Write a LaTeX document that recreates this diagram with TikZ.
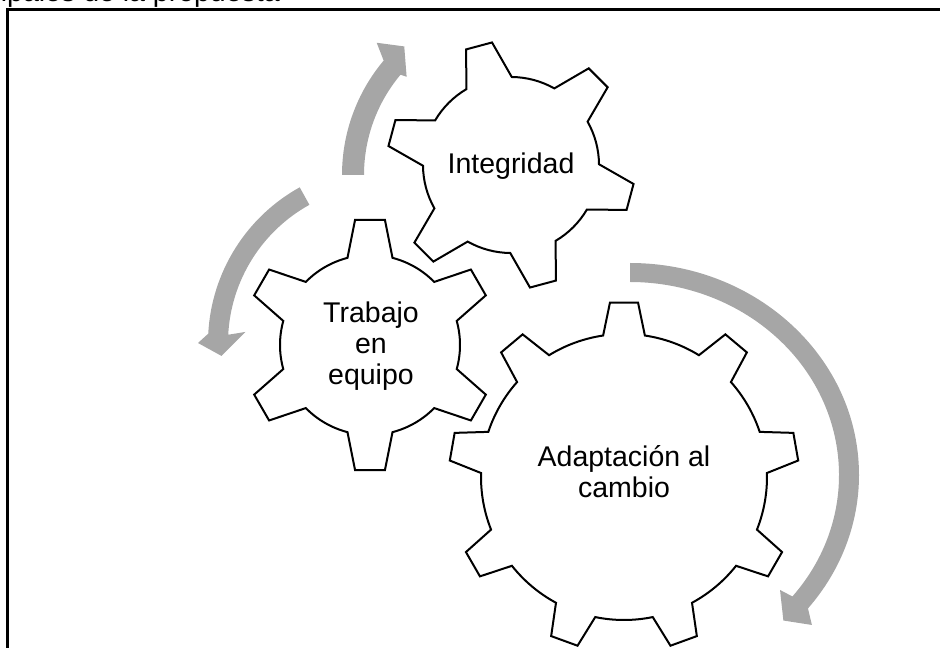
\documentclass[tikz,border=0pt]{standalone}
\usepackage{fontspec}
\setmainfont{Liberation Sans}
\definecolor{arrowgray}{HTML}{A6A6A6}
\newcommand{\drawgear}[7]{%
  \begin{scope}[shift={(#1)}]
    \pgfmathsetmacro{\gstep}{360/#2}
    \pgfmathtruncatemacro{\glast}{#2-1}
    \draw[gear] ({#5-#6}:#3)
      \foreach \i in {0,...,\glast}{
        -- ({#5+\i*\gstep-#7}:#4) -- ({#5+\i*\gstep+#7}:#4) -- ({#5+\i*\gstep+#6}:#3)
        arc[start angle={#5+\i*\gstep+#6}, end angle={#5+(\i+1)*\gstep-#6}, radius=#3]
      } -- cycle;
  \end{scope}}
\begin{document}
\begin{tikzpicture}[x=1pt,y=1pt,
  gear/.style={draw=black, fill=white, line width=2pt, line join=miter},
  cyclearrow/.style={fill=arrowgray, draw=none},
  geartext/.style={font=\fontsize{28.5}{31}\selectfont, align=center, inner sep=0pt, text=black},
  frameline/.style={line width=2.2pt, draw=black}]
\useasboundingbox (0,0) rectangle (940,648);
\clip (0,0) rectangle (940,648);

% caption (cut off at the top edge)
\node[font=\fontsize{28.5}{31}\selectfont, anchor=base east, inner sep=0pt] (caption) at (280,646) {Valores principales de la propuesta};

% frame
\draw[frameline] (7.5,-30) -- (7.5,638.5) -- (980,638.5);

% circular arrows
\begin{scope}[shift={(520,473)}]
  \fill[cyclearrow] (180:178) arc[start angle=180, end angle=140, radius=178]
    -- (137.3:195) -- (132:173) -- (139.1:150) -- (140:156)
    arc[start angle=140, end angle=180, radius=156] -- cycle;
\end{scope}
\begin{scope}[shift={(386,305)}]
  \fill[cyclearrow] (119:178) arc[start angle=119, end angle=177, radius=178]
    -- (180:188) -- (184.5:165) -- (175.5:141) -- (177:158)
    arc[start angle=177, end angle=119, radius=158] -- cycle;
\end{scope}
\begin{scope}[shift={(630,173)}]
  \fill[cyclearrow] (90:229 and 212) arc[start angle=90, end angle=-39, x radius=229, y radius=212]
    -- (-41.8:244 and 225) -- (-45.8:220 and 203) -- (-39.7:195 and 180) -- (-39:209 and 193)
    arc[start angle=-39, end angle=90, x radius=209, y radius=193] -- cycle;
\end{scope}

% gears: center, teeth, root radius, tip radius, first tooth angle, base half-angle, tip half-angle
\drawgear{511,483}{6}{88}{124}{105}{15.5}{6.2}
\drawgear{370,303}{6}{90}{126}{90}{14.5}{6.8}
\drawgear{624,171}{9}{143}{175}{90}{8.4}{4.6}

% labels
\node[geartext, anchor=base] (integ) at (511,474) {Integridad};
\node[geartext] (trabajo) at (371,301.5) {Trabajo\\en\\equipo};
\node[geartext] (adapt) at (624,176.5) {Adaptación al\\cambio};
\end{tikzpicture}
\end{document}
